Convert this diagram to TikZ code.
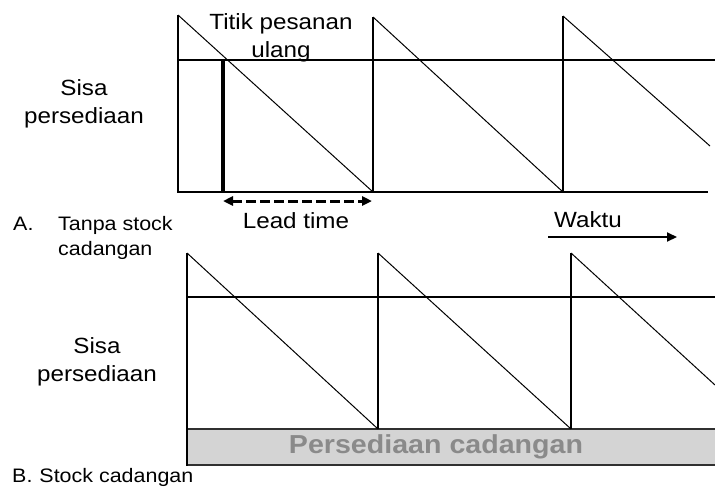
\documentclass[tikz,border=0pt]{standalone}
\usepackage{fontspec}
\setmainfont{Liberation Sans}[FakeStretch=1.1]
\usetikzlibrary{arrows.meta}
\definecolor{cadfill}{HTML}{D4D4D4}
\definecolor{cadtext}{HTML}{8A8A8A}
\definecolor{cadedge}{HTML}{303030}
\begin{document}
\begin{tikzpicture}[x=1pt,y=-1pt,
  axis/.style={line width=2pt},
  saw/.style={line width=1pt},
  lbl/.style={inner sep=0pt, font=\fontsize{22}{28}\selectfont, align=center},
  small/.style={inner sep=0pt, font=\fontsize{19.5}{25}\selectfont, align=left},
  tip/.style={-{Triangle[length=10pt,width=9pt]}}]
\useasboundingbox (0,0) rectangle (715,488);
% ---- chart A ----
\draw[axis] (178,15) -- (178,192) -- (708,192);
\draw[axis] (178,60) -- (715,60);
\draw[saw] (178,15) -- (373,192);
\draw[axis] (373,192) -- (373,17);
\draw[saw] (373,17) -- (563,192);
\draw[axis] (563,192) -- (563,16);
\draw[saw] (563,16) -- (710,146);
\draw[line width=3.5pt] (223,60) -- (223,192);
% ---- chart B ----
\fill[cadfill] (187,429) rectangle (715,465);
\draw[axis, cadedge] (187,429) -- (715,429);
\draw[axis, cadedge] (187,465) -- (715,465);
\draw[axis] (187,253) -- (187,466);
\draw[axis] (187,297) -- (715,297);
\draw[saw] (187,253) -- (378,429);
\draw[axis] (378,429) -- (378,253);
\draw[saw] (378,253) -- (571,429);
\draw[axis] (571,429) -- (571,253);
\draw[saw] (571,253) -- (715,385);
% ---- labels ----
\node[lbl] (reorder) at (281,38) {Titik pesanan\\ulang};
\node[lbl] (sisaA) at (84,104) {Sisa\\persediaan};
\node[lbl, anchor=base] (lead) at (296,228) {Lead time};
\node[lbl, anchor=base] (waktu) at (588,227) {Waktu};
\node[small, anchor=base west] (labA) at (13,230) {A.};
\node[small, anchor=west] (tanpa) at (58,238) {Tanpa stock\\cadangan};
\node[lbl] (sisaB) at (97,362) {Sisa\\persediaan};
\node[small, anchor=base west] (labB) at (12,482) {B.\hspace{7pt}Stock cadangan};
\node[inner sep=0pt, anchor=base, font=\fontsize{26}{30}\selectfont\bfseries, text=cadtext] (cad) at (436,453) {Persediaan cadangan};
% ---- arrows ----
\coordinate (lt1) at (223,201);
\coordinate (lt2) at (372,201);
\draw[line width=3pt, dash pattern=on 10pt off 4pt, {Triangle[length=10pt,width=9pt]}-{Triangle[length=10pt,width=9pt]}] (lt1) -- (lt2);
\coordinate (w1) at (548,237);
\coordinate (w2) at (677,237);
\draw[line width=2pt, tip] (w1) -- (w2);
\end{tikzpicture}
\end{document}
